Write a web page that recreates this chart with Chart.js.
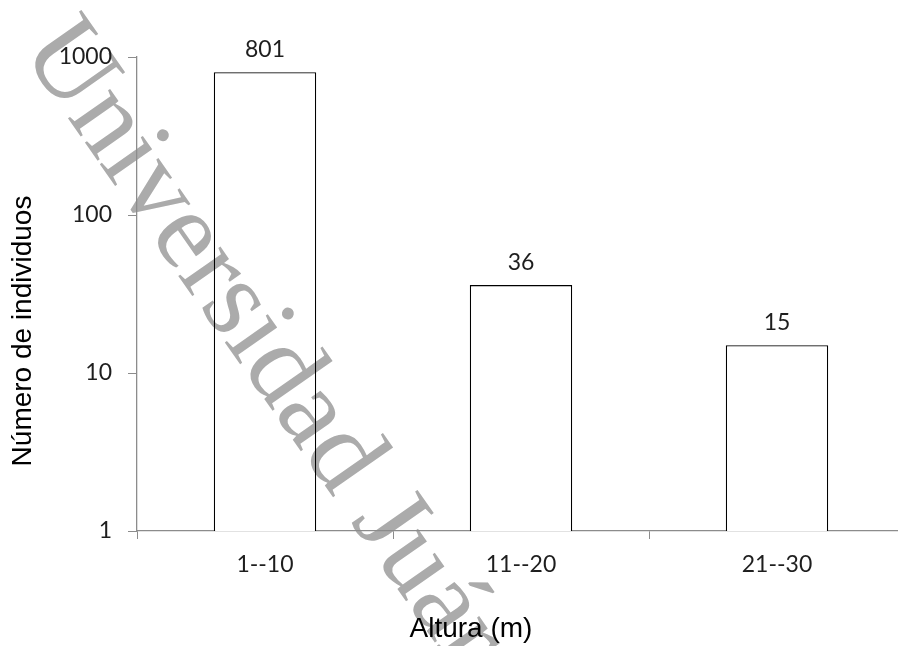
<!DOCTYPE html>
<html>
<head>
<meta charset="utf-8">
<script src="https://cdn.jsdelivr.net/npm/chart.js@4/dist/chart.umd.min.js"></script>
<style>
  html, body { margin: 0; padding: 0; background: #ffffff; overflow: hidden; width: 898px; height: 646px; }
  #wrap { position: absolute; left: 0; top: 0; width: 910px; height: 646px; }
</style>
</head>
<body>
<div id="wrap"><canvas id="c" width="910" height="646"></canvas></div>
<script>
const categories = ['1--10', '11--20', '21--30'];
const counts = [801, 36, 15];
const yTickValues = [1, 10, 100, 1000];
const yTitle = 'Número de individuos';
const xTitle = 'Altura (m)';
const watermark = 'Universidad Juárez';

const AXIS_GRAY = '#8c8c8c';
const TEXT = '#1e1e1e';

const labelPlugin = {
  id: 'extras',
  afterDatasetsDraw(chart) {
    const ctx = chart.ctx;
    const meta = chart.getDatasetMeta(0);
    ctx.save();
    ctx.font = '23px Lato';
    ctx.fillStyle = TEXT;
    ctx.textAlign = 'center';
    ctx.textBaseline = 'alphabetic';
    meta.data.forEach((bar, i) => {
      ctx.fillText(String(counts[i]), bar.x, bar.y - 15);
    });
    ctx.restore();
  },
  afterDraw(chart) {
    const ctx = chart.ctx;
    ctx.save();
    ctx.fillStyle = '#000';
    ctx.font = '28px "Liberation Sans"';
    ctx.textAlign = 'center';
    ctx.textBaseline = 'middle';
    ctx.translate(23, 331);
    ctx.rotate(-Math.PI / 2);
    ctx.fillText(yTitle, 0, 0);
    ctx.restore();

    ctx.save();
    ctx.fillStyle = '#000';
    ctx.font = '28px "Liberation Sans"';
    ctx.textAlign = 'center';
    ctx.textBaseline = 'alphabetic';
    ctx.fillText(xTitle, 471, 637);
    ctx.restore();

    // watermark
    ctx.save();
    ctx.globalCompositeOperation = 'darken';
    ctx.fillStyle = '#ababab';
    ctx.font = '112px "Liberation Serif"';
    ctx.textAlign = 'left';
    ctx.textBaseline = 'alphabetic';
    ctx.translate(20, 50);
    ctx.rotate(55 * Math.PI / 180);
    ctx.fillText(watermark, 0, 0);
    ctx.restore();
  }
};

new Chart(document.getElementById('c'), {
  type: 'bar',
  data: {
    labels: categories,
    datasets: [{
      data: counts,
      backgroundColor: '#ffffff',
      borderColor: '#000000',
      borderWidth: 1.3,
      borderSkipped: 'start',
      barPercentage: 0.4,
      categoryPercentage: 1.0
    }]
  },
  options: {
    responsive: false,
    animation: false,
    devicePixelRatio: 1,
    layout: { padding: { left: 0, right: 5, top: 57, bottom: 0 } },
    plugins: {
      legend: { display: false },
      tooltip: { enabled: false },
      title: { display: false }
    },
    scales: {
      x: {
        type: 'category',
        offset: true,
        grid: {
          offset: true,
          drawOnChartArea: false,
          drawTicks: true,
          tickLength: 8,
          color: AXIS_GRAY
        },
        border: { display: true, color: AXIS_GRAY, width: 1.3 },
        ticks: {
          color: TEXT,
          font: { family: 'Lato', size: 23 },
          padding: 12,
          maxRotation: 0
        },
        afterFit(scale) { scale.height = 115; }
      },
      y: {
        type: 'logarithmic',
        min: 1,
        max: 1000,
        grid: {
          drawOnChartArea: false,
          drawTicks: true,
          tickLength: 9,
          color: AXIS_GRAY
        },
        border: { display: true, color: AXIS_GRAY, width: 1.3 },
        ticks: {
          color: TEXT,
          font: { family: 'Lato', size: 23 },
          padding: 16,
          callback: (v) => String(v)
        },
        afterBuildTicks(scale) {
          scale.ticks = yTickValues.map(v => ({ value: v, major: false }));
        },
        afterFit(scale) { scale.width = 137; }
      }
    }
  },
  plugins: [labelPlugin]
});
</script>
</body>
</html>
